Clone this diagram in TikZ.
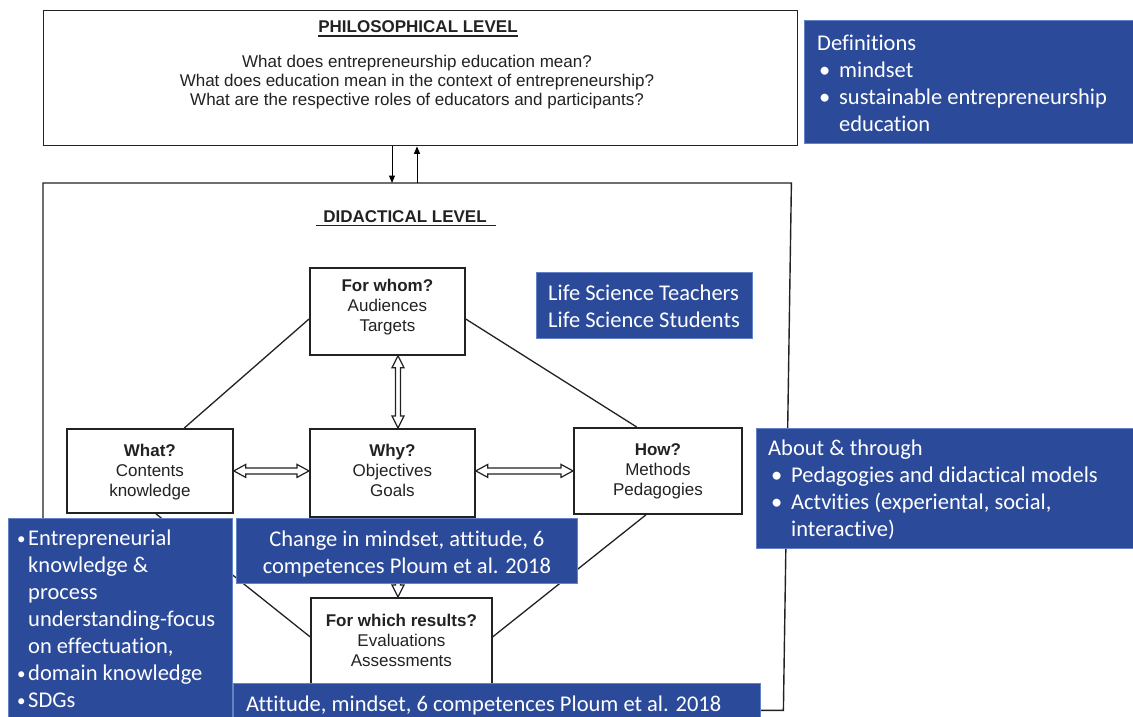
\documentclass[tikz,border=0pt]{standalone}
\usepackage{fontspec}
\setmainfont{Carlito}[Ligatures=NoCommon]
\newfontfamily\diagfont{Liberation Sans}
\usetikzlibrary{calc,arrows.meta}

\definecolor{panel}{RGB}{44,74,154}
\definecolor{panelrim}{RGB}{100,130,200}
\definecolor{ink}{RGB}{34,34,34}

% hollow double-headed arrows (horizontal and vertical)
\newcommand\hollowH[2]{%
  \draw[hollow] (#1) -- ++(12,-6.5) -- ++(0,3.5) -- ($(#2)+(-12,-3)$) -- ++(0,-3.5)
    -- (#2) -- ++(-12,6.5) -- ++(0,-3.5) -- ($(#1)+(12,3)$) -- ++(0,3.5) -- cycle;}
\newcommand\hollowV[2]{%
  \draw[hollow] (#1) -- ++(6,12) -- ++(-3.5,0) -- ($(#2)+(2.5,-12)$) -- ++(3.5,0)
    -- (#2) -- ++(-6,-12) -- ++(3.5,0) -- ($(#1)+(-2.5,12)$) -- ++(-3.5,0) -- cycle;}
% small bullet hanging to the left of the text edge
\newcommand\hangbul{\llap{\raisebox{1pt}{\fontsize{17}{17}\selectfont\textbullet}\kern2.5pt}}

\begin{document}
\begin{tikzpicture}[x=1pt,y=-1pt,
  frame/.style={draw=ink, line width=1.4pt, inner sep=0pt, anchor=north west},
  qbox/.style={draw=ink, line width=1.8pt, fill=white, inner sep=0pt, anchor=north west},
  qtext/.style={text=ink, inner sep=0pt, align=center, anchor=north,
    font=\diagfont\fontsize{17}{20}\selectfont},
  htext/.style={text=ink, inner sep=0pt, anchor=base, font=\diagfont\bfseries\fontsize{17}{20}\selectfont},
  link/.style={draw=ink, line width=1.3pt},
  hollow/.style={draw=ink, line width=1.2pt, fill=white, line join=miter},
  arr/.style={draw=black, line width=1pt, -{Triangle[length=7.5pt,width=6pt]}},
  panelbox/.style={fill=panel, draw=panelrim, line width=0.8pt, inner sep=0pt, anchor=north west},
  ptext/.style={text=white, inner sep=0pt, align=left, anchor=north west,
    font=\fontsize{22.5}{27}\selectfont},
  pctext/.style={text=white, inner sep=0pt, align=center, anchor=north,
    font=\fontsize{22.5}{27}\selectfont},
]
\useasboundingbox[fill=white] (0,0) rectangle (1133,717);

% ---------- philosophical level ----------
\node[frame, minimum width=754, minimum height=135] (phil) at (43,10) {};
\node[htext] (phil-t) at (418,33) {PHILOSOPHICAL LEVEL};
\draw[line width=1.8pt, ink] ($(phil-t.base west)+(0,3)$) -- ($(phil-t.base east)+(0,3)$);
\node[qtext, font=\diagfont\fontsize{17}{19.3}\selectfont] (phil-q) at (417,54.8)
  {What does entrepreneurship education mean?\\
   What does education mean in the context of entrepreneurship?\\
   What are the respective roles of educators and participants?};

% ---------- didactical level (right side leans in slightly) ----------
\node[inner sep=0pt, anchor=north west, minimum width=746, minimum height=527] (did) at (43,183) {};
\draw[ink, line width=1.4pt] (did.north west) -- ($(did.north east)+(2,0)$)
  -- ($(did.south east)+(-6,0)$) -- (did.south west) -- cycle;
\node[htext] (did-t) at (405,222) {DIDACTICAL LEVEL};
\draw[line width=1.8pt, ink] ($(did-t.base west)+(-7,3.5)$) -- ($(did-t.base east)+(9,3.5)$);

\coordinate (dn) at (392,0);
\coordinate (upc) at (417,0);
\draw[arr] (phil.south -| dn) -- (did.north -| dn);
\draw[arr] (did.north -| upc) -- (phil.south -| upc);

% ---------- question boxes ----------
\node[qbox, minimum width=155, minimum height=87] (whom) at (309,267) {};
\node[qbox, minimum width=166, minimum height=84] (what) at (66,428) {};
\node[qbox, minimum width=165, minimum height=88] (why) at (309,428) {};
\node[qbox, minimum width=168, minimum height=86] (how) at (573,427) {};
\node[qbox, minimum width=181, minimum height=86] (result) at (310,597) {};

\node[qtext] (whom-t) at (whom.north |- 0,278.5) {\textbf{For whom?}\\Audiences\\Targets};
\node[qtext] (what-t) at (what.north |- 0,443.5) {\textbf{What?}\\Contents\\knowledge};
\node[qtext] (why-t) at (why.north |- 0,443.5) {\textbf{Why?}\\Objectives\\Goals};
\node[qtext] (how-t) at (how.north |- 0,443.5) {\textbf{How?}\\Methods\\Pedagogies};
\node[qtext] (result-t) at (result.north |- 0,613.5) {\textbf{For which results?}\\Evaluations\\Assessments};

% ---------- connecting lines ----------
\draw[link] ($(whom.north west)!0.586!(whom.south west)$) -- ($(what.north west)!0.705!(what.north east)$);
\draw[link] ($(whom.north east)!0.586!(whom.south east)$) -- ($(how.north west)!0.375!(how.north east)$);
\draw[link] ($(what.south west)!0.536!(what.south east)$) -- ($(result.north west)!0.453!(result.south west)$);
\draw[link] ($(how.south west)!0.43!(how.south east)$) -- ($(result.north east)!0.453!(result.south east)$);

\coordinate (vx) at (398,0);
\hollowH{what.east}{why.west |- what.east}
\hollowH{why.east |- how.west}{how.west}
\hollowV{whom.south -| vx}{why.north -| vx}
\hollowV{why.south -| vx}{result.north -| vx}

% ---------- annotation panels ----------
\node[panelbox, minimum width=329, minimum height=123] (defs) at (804,20) {};
\node[ptext] (defs-t) at (817,34.5)
  {Definitions\\
   \hspace*{2pt}\makebox[20pt][l]{\textbullet}mindset\\
   \hspace*{2pt}\makebox[20pt][l]{\textbullet}sustainable entrepreneurship\\
   \hspace*{22pt}education};

\node[panelbox, minimum width=216, minimum height=66] (life) at (536,272) {};
\node[ptext] (life-t) at (548,284.5)
  {Life Science Teachers\\Life Science Students};

\node[panelbox, minimum width=377, minimum height=120] (about) at (756,428) {};
\node[ptext] (about-t) at (768,439.5)
  {About \& through\\
   \hspace*{3pt}\makebox[20pt][l]{\textbullet}Pedagogies and didactical models\\
   \hspace*{3pt}\makebox[20pt][l]{\textbullet}Actvities (experiental, social,\\
   \hspace*{23pt}interactive)};

\node[panelbox, minimum width=224, minimum height=199] (content) at (8,518) {};
\node[ptext] (content-t) at (28,529.5)
  {\hangbul Entrepreneurial\\
   knowledge \&\\
   process\\
   understanding-focus\\
   on effectuation,\\
   \hangbul domain knowledge\\
   \hangbul SDGs};

\node[panelbox, minimum width=341, minimum height=65] (change) at (236,518) {};
\node[pctext] (change-t) at (change.north |- 0,530.5)
  {Change in mindset, attitude, 6\\competences Ploum et al. 2018};

\node[panelbox, minimum width=527, minimum height=36] (attitude) at (233,683) {};
\node[ptext] (attitude-t) at (246,695.5)
  {Attitude, mindset, 6 competences Ploum et al. 2018};
\end{tikzpicture}
\end{document}
